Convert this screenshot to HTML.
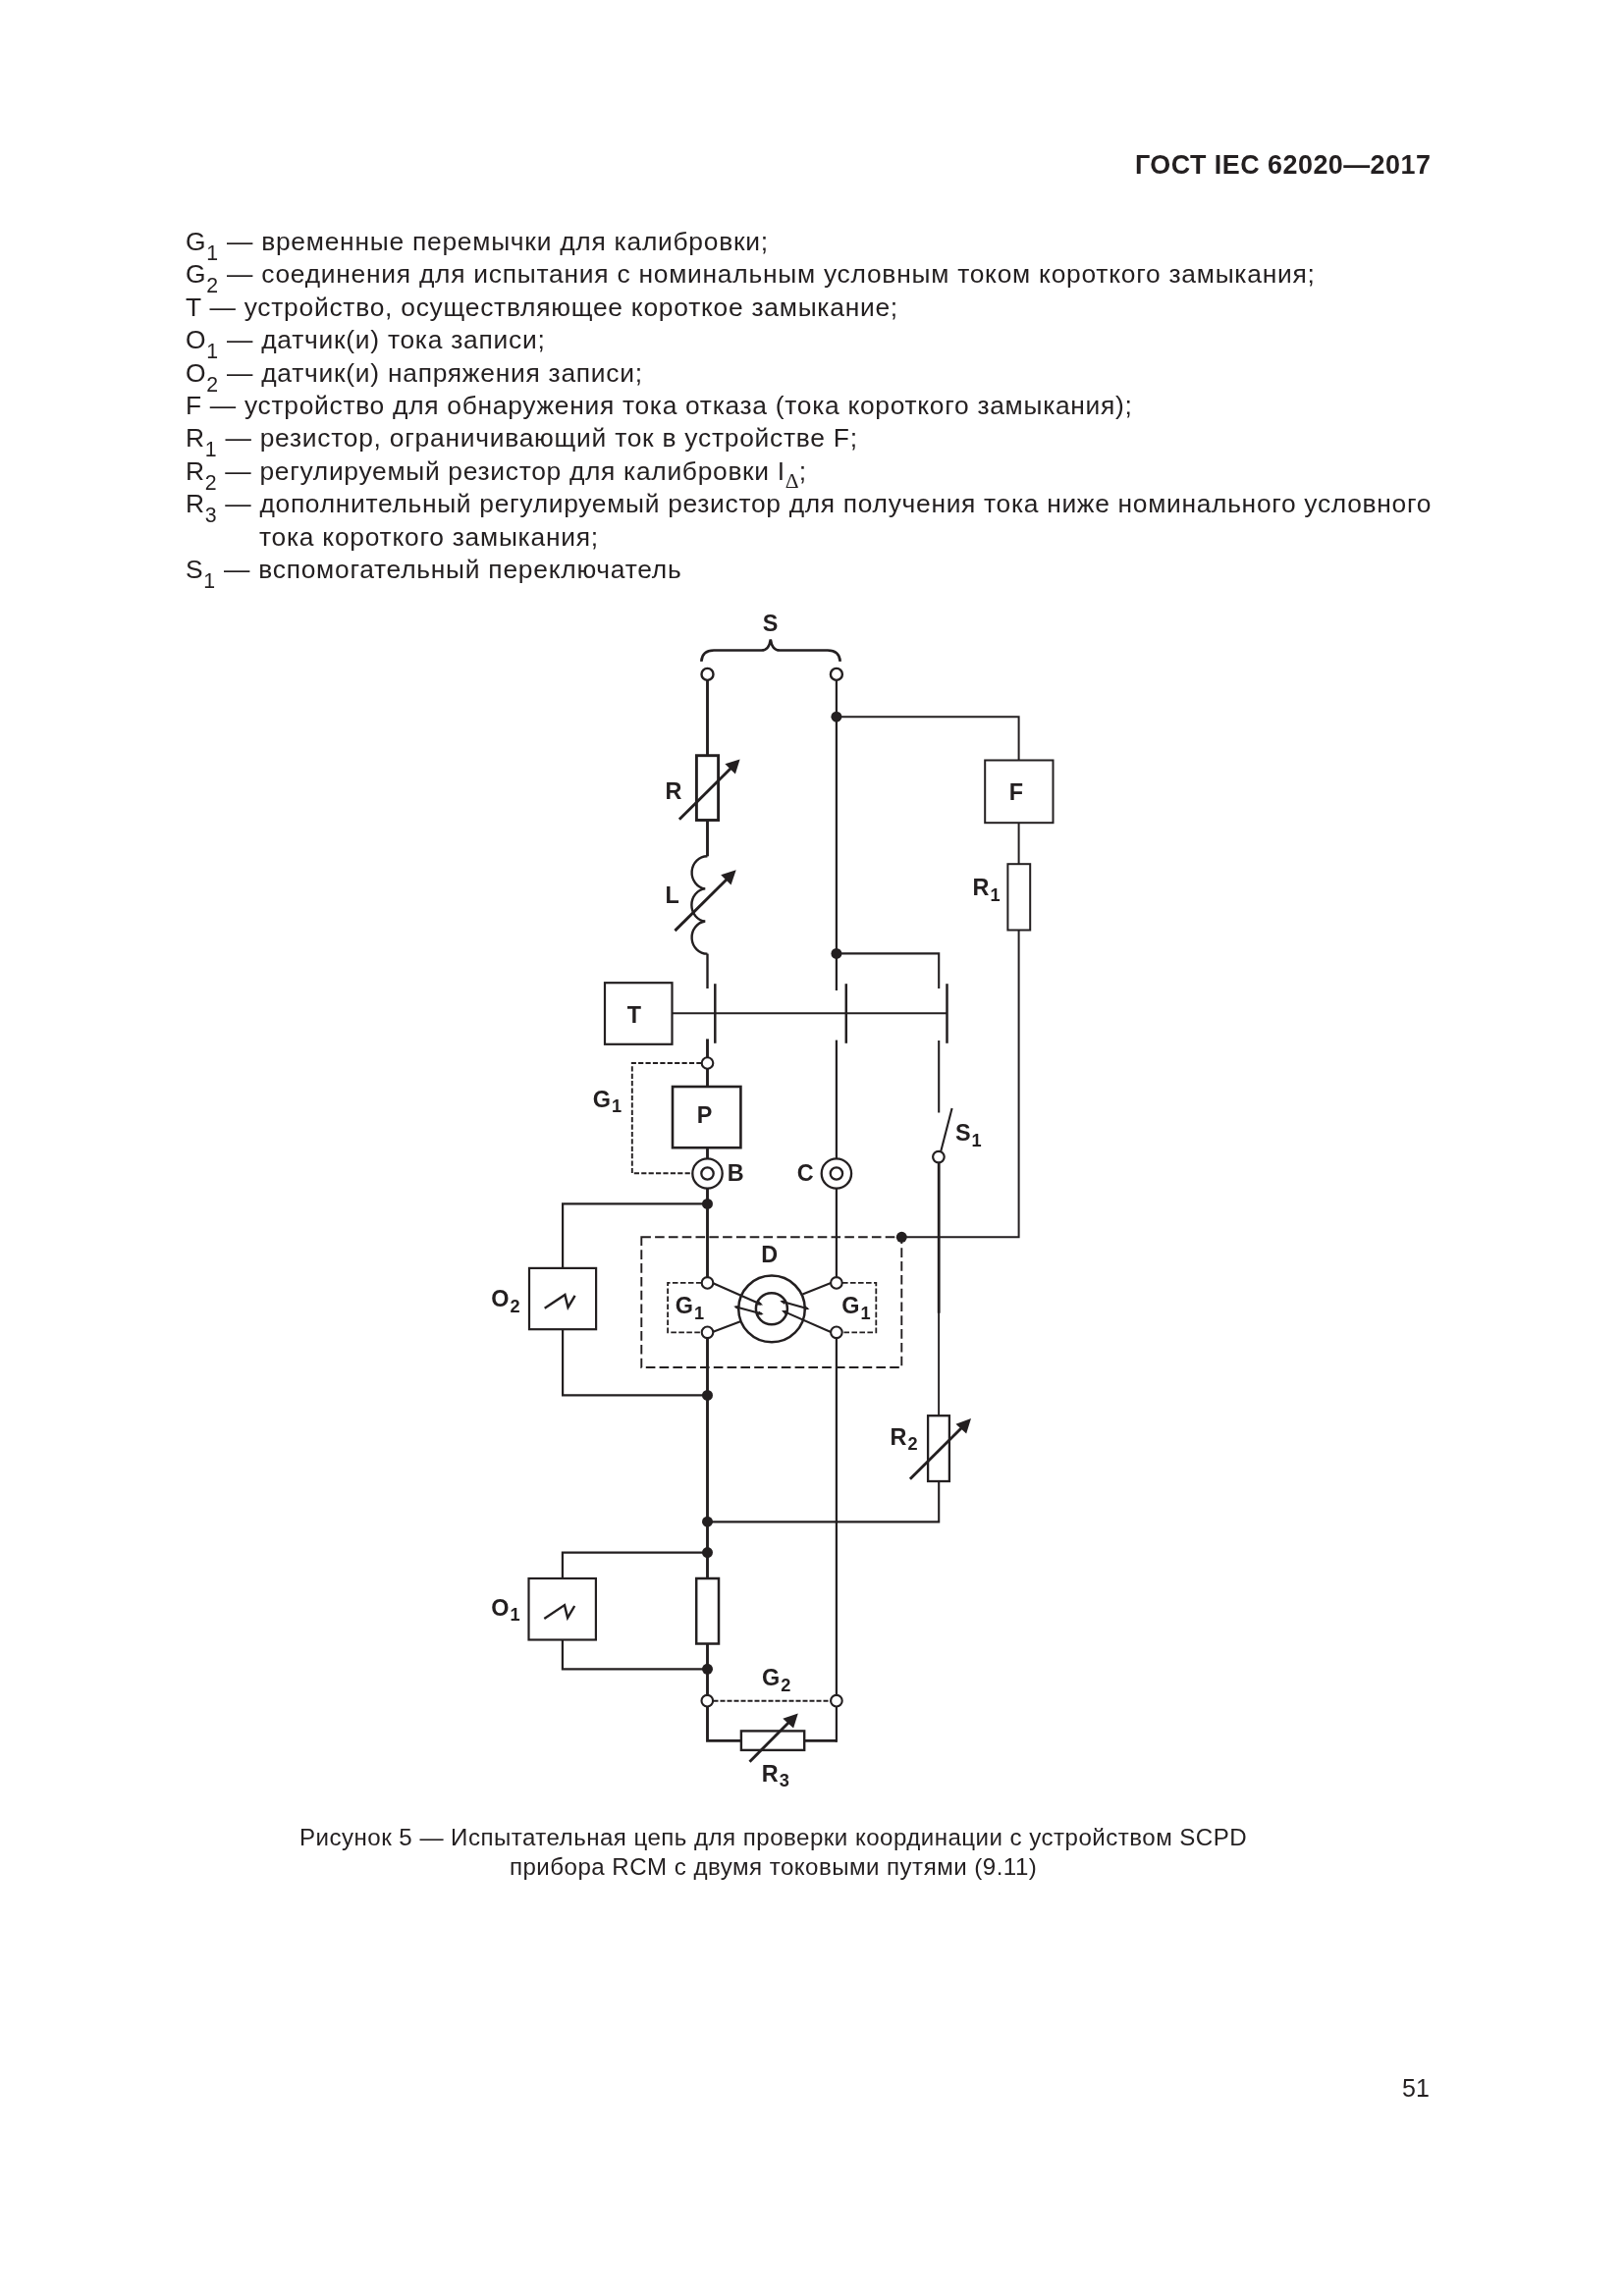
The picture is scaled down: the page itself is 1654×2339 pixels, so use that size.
<!DOCTYPE html>
<html lang="ru">
<head>
<meta charset="utf-8">
<title>ГОСТ IEC 62020—2017</title>
<style>
html,body{margin:0;padding:0;background:#fff;}
body{width:1654px;height:2339px;position:relative;overflow:hidden;font-family:"Liberation Sans",sans-serif;color:#231f20;}
.t,.hdr,.cap,.pn,svg{will-change:transform;}
.t{position:absolute;white-space:nowrap;line-height:1;font-size:26.4px;letter-spacing:0.745px;left:189.3px;}
.t sub{font-size:21.3px;vertical-align:baseline;position:relative;top:9.8px;line-height:0;}
.hdr{position:absolute;white-space:nowrap;line-height:1;font-weight:bold;font-size:26.9px;letter-spacing:0.48px;right:196.9px;top:155.2px;}
.cap{position:absolute;white-space:nowrap;line-height:1;font-size:24.1px;letter-spacing:0.47px;left:0;width:1575.2px;text-align:center;}
.pn{position:absolute;white-space:nowrap;line-height:1;font-size:25px;letter-spacing:0px;right:198.4px;top:2114.6px;}
svg{position:absolute;left:0;top:0;}
svg text{font-family:"Liberation Sans",sans-serif;font-weight:bold;font-size:23.4px;fill:#231f20;}
svg .s{font-size:18.2px;}
</style>
</head>
<body>
<div class="hdr">ГОСТ IEC 62020—2017</div>

<div class="t" style="top:233.0px">G<sub>1</sub> — временные перемычки для калибровки;</div>
<div class="t" style="top:266.4px">G<sub>2</sub> — соединения для испытания с номинальным условным током короткого замыкания;</div>
<div class="t" style="top:299.8px">T — устройство, осуществляющее короткое замыкание;</div>
<div class="t" style="top:333.2px">O<sub>1</sub> — датчик(и) тока записи;</div>
<div class="t" style="top:366.6px">O<sub>2</sub> — датчик(и) напряжения записи;</div>
<div class="t" style="top:400.0px;letter-spacing:0.705px">F — устройство для обнаружения тока отказа (тока короткого замыкания);</div>
<div class="t" style="top:433.4px">R<sub>1</sub> — резистор, ограничивающий ток в устройстве F;</div>
<div class="t" style="top:466.8px;letter-spacing:0.695px">R<sub>2</sub> — регулируемый резистор для калибровки I<sub style="font-family:'Liberation Serif',serif;font-size:21.5px;top:7.6px;margin-left:0px;letter-spacing:0">Δ</sub>;</div>
<div class="t" style="top:500.2px;letter-spacing:0.69px">R<sub>3</sub> — дополнительный регулируемый резистор для получения тока ниже номинального условного</div>
<div class="t" style="top:533.6px;left:264px">тока короткого замыкания;</div>
<div class="t" style="top:567.1px">S<sub>1</sub> — вспомогательный переключатель</div>

<svg width="1654" height="2339" viewBox="0 0 1654 2339" fill="none" stroke="#231f20" stroke-linecap="butt" stroke-linejoin="miter">
<!-- brace -->
<path d="M714.3,673.8 C714.8,666.5 719,662.5 727,662.5 L775.5,662.5 C781,662.5 783.8,658.8 784.8,651.3 C785.8,658.8 788.6,662.5 794.1,662.5 L843,662.5 C851,662.5 855.2,666.5 855.7,673.8" stroke-width="2.6"/>
<!-- left main wire (heavy) -->
<g stroke-width="2.9">
<path d="M720.5,693 V770"/>
<path d="M720.5,835.5 V872.3"/>
<path d="M720.5,1058.4 V1077"/>
<path d="M720.5,1089 V1107"/>
<path d="M720.5,1169 V1180.3"/>
<path d="M720.5,1210.7 V1301"/>
<path d="M720.5,1363 V1608"/>
<path d="M720.5,1674.5 V1727"/>
<path d="M720.5,1738.4 V1773.4 H755"/>
<path d="M819.2,1773.4 H851.9"/>
<rect x="709.4" y="769.7" width="22.2" height="65.8"/>
</g>
<path d="M720.5,971.6 V1007" stroke-width="2.4"/>
<!-- inductor -->
<path d="M720.5,872.3 A15.6,16.62 0 0 0 718.2,905.4 A15.2,16.62 0 0 0 718.2,938.5 A15.6,16.62 0 0 0 720.5,971.6" stroke-width="2.4"/>
<!-- middle wire -->
<g stroke-width="2.2">
<path d="M851.9,693 V1009"/>
<path d="M851.9,1059.6 V1180.3"/>
<path d="M851.9,1210.7 V1301"/>
<path d="M851.9,1363 V1727"/>
<path d="M851.9,1738.4 V1774.8"/>
</g>
<!-- F branch -->
<g stroke-width="2">
<path d="M851.9,730.2 H1037.6 V774.5"/>
<rect x="1003.2" y="774.5" width="69.3" height="63.7"/>
<path d="M1037.6,838.2 V880.2"/>
<rect x="1026.4" y="880.2" width="22.8" height="67.3"/>
<path d="M1037.6,947.5 V1260.3 H918.3"/>
</g>
<!-- S1 branch -->
<g stroke-width="2.1">
<path d="M851.9,971.4 H956.2 V1007"/>
<path d="M956.2,1060 V1133.5"/>
<path d="M969.6,1129 L958.2,1173"/>
<circle cx="955.9" cy="1178.6" r="5.8" stroke-width="2.2"/>
<path d="M956.2,1184.5 V1337.7" stroke-width="2.8"/>
<path d="M956.1,1337 V1442.2" stroke-width="1.9"/>
<rect x="945.1" y="1442.2" width="21.8" height="66.8" stroke-width="2.3"/>
<path d="M956.2,1509 V1550.4 H720.5"/>
</g>
<!-- contact bars -->
<g stroke-width="2.5">
<path d="M728.3,1002.2 V1062.8"/>
<path d="M861.8,1002.2 V1062.8"/>
<path d="M964.5,1002.2 V1062.8"/>
</g>
<!-- T -->
<rect x="616" y="1001.2" width="68.5" height="62.6" stroke-width="2.2"/>
<path d="M684.5,1032.3 H964.5" stroke-width="1.9"/>
<!-- P -->
<rect x="685" y="1107" width="69.4" height="62.2" stroke-width="2.6"/>
<!-- G1 dashed -->
<path d="M714.5,1083 H643.8 V1195.3 H705" stroke-width="1.9" stroke-dasharray="5.2 2.2"/>
<!-- B, C -->
<g stroke-width="2.3">
<circle cx="720.5" cy="1195.5" r="15.2"/><circle cx="720.5" cy="1195.5" r="6.2"/>
<circle cx="851.9" cy="1195.5" r="15.2"/><circle cx="851.9" cy="1195.5" r="6.2"/>
</g>
<!-- O2 -->
<g stroke-width="2.2">
<path d="M720.5,1226.4 H573.1 V1292"/>
<rect x="539" y="1291.9" width="68.1" height="62.3"/>
<path d="M573.1,1354.2 V1421.4 H720.5"/>
<path d="M554.7,1332.8 L575.4,1319 L578.5,1331.9 L585.6,1319.9" stroke-width="2.4" stroke-linejoin="miter"/>
</g>
<!-- O1 -->
<g stroke-width="2.2">
<path d="M720.5,1581.6 H572.9 V1608"/>
<rect x="538.5" y="1608" width="68.4" height="62.5"/>
<path d="M572.9,1670.5 V1700.3 H720.5"/>
<path d="M554.3,1648.9 L575,1635.1 L578.1,1648 L585.2,1636" stroke-width="2.4"/>
</g>
<rect x="709.2" y="1608" width="22.8" height="66.5" stroke-width="2.5"/>
<!-- D dashed -->
<path d="M653.3,1260.3 H918.3 V1393 H653.3 Z" stroke-width="1.9" stroke-dasharray="9.6 4.2"/>
<path d="M714.5,1306.9 H680.1 V1357.3 H714.5" stroke-width="1.8" stroke-dasharray="5.6 2.4"/>
<path d="M858,1306.9 H892.3 V1357.3 H858" stroke-width="1.8" stroke-dasharray="5.6 2.4"/>
<!-- toroid -->
<circle cx="786" cy="1333.4" r="33.8" stroke-width="2.5"/>
<circle cx="785.9" cy="1333.3" r="16" stroke-width="2.5"/>
<g stroke-width="2.1">
<path d="M726.3,1307.2 L775,1328.7"/>
<path d="M749,1331.3 L776,1338.6"/>
<path d="M796,1325.7 L822.8,1333.3"/>
<path d="M846.1,1357 L798,1335.9"/>
<path d="M846.2,1307 L817.4,1318.4"/>
<path d="M726.3,1356.8 L754,1346.3"/>
</g>
<g fill="#231f20" stroke="none">
<path d="M777.0,1329.6 L770.9,1329.4 L772.8,1325.2 Z"/>
<path d="M777.7,1339.1 L771.7,1339.8 L772.9,1335.4 Z"/>
<path d="M747.2,1330.8 L753.2,1330.1 L752.0,1334.5 Z"/>
<path d="M824.5,1333.8 L818.5,1334.5 L819.7,1330.1 Z"/>
<path d="M794.3,1325.2 L800.3,1324.5 L799.1,1328.9 Z"/>
<path d="M796.0,1335.0 L802.1,1335.1 L800.2,1339.4 Z"/>
</g>
<!-- terminals D -->
<g stroke-width="2.1">
<circle cx="720.5" cy="1306.9" r="5.8"/><circle cx="851.9" cy="1306.9" r="5.8"/>
<circle cx="720.5" cy="1357.3" r="5.8"/><circle cx="851.9" cy="1357.3" r="5.8"/>
<circle cx="720.5" cy="1083" r="5.8"/>
<circle cx="720.5" cy="686.9" r="6" stroke-width="2.4"/><circle cx="851.9" cy="686.9" r="6" stroke-width="2.4"/>
<circle cx="720.3" cy="1732.7" r="5.8"/><circle cx="851.9" cy="1732.7" r="5.8"/>
</g>
<!-- G2 dashed -->
<path d="M726.5,1732.7 H846" stroke-width="1.9" stroke-dasharray="5 2"/>
<!-- R3 -->
<rect x="754.9" y="1763.4" width="64.3" height="19.5" stroke-width="2.4"/>
<!-- arrows -->
<g stroke-width="2.9">
<path d="M691.9,834.7 L745,782"/>
<path d="M687.4,948.1 L741,895"/>
<path d="M926.9,1506.8 L980,1454"/>
<path d="M763.5,1794.7 L805,1753"/>
</g>
<g fill="#231f20" stroke="none">
<path d="M753.6,773.5 L738.4,778.2 L748.9,788.4 Z"/>
<path d="M749.7,886.2 L734.2,891.3 L744.5,901.6 Z"/>
<path d="M989,1445.1 L973.5,1450.7 L984.2,1460.6 Z"/>
<path d="M812.8,1745.4 L797.3,1750.7 L808.1,1760.4 Z"/>
<!-- dots -->
<circle cx="851.9" cy="730.2" r="5.5"/>
<circle cx="851.9" cy="971.4" r="5.5"/>
<circle cx="720.5" cy="1226.4" r="5.5"/>
<circle cx="918.3" cy="1260.3" r="5.5"/>
<circle cx="720.5" cy="1421.4" r="5.5"/>
<circle cx="720.5" cy="1550.2" r="5.5"/>
<circle cx="720.5" cy="1581.6" r="5.5"/>
<circle cx="720.5" cy="1700.3" r="5.5"/>
</g>
<!-- labels -->
<g stroke="none">
<text x="784.6" y="642.9" text-anchor="middle">S</text>
<text x="677.6" y="814.3">R</text>
<text x="677.6" y="919.5">L</text>
<text x="1034.8" y="815" text-anchor="middle">F</text>
<text x="990.6" y="912">R<tspan class="s" dx="1" dy="5.6">1</tspan></text>
<text x="646" y="1041.7" text-anchor="middle">T</text>
<text x="717.5" y="1143.8" text-anchor="middle">P</text>
<text x="603.8" y="1127.8">G<tspan class="s" dx="1" dy="5.6">1</tspan></text>
<text x="740.8" y="1203.3">B</text>
<text x="811.8" y="1203.3">C</text>
<text x="973" y="1162.3">S<tspan class="s" dx="1" dy="5.6">1</tspan></text>
<text x="783.6" y="1286.3" text-anchor="middle">D</text>
<text x="687.8" y="1338.2">G<tspan class="s" dx="1" dy="5.6">1</tspan></text>
<text x="857.3" y="1338.2">G<tspan class="s" dx="1" dy="5.6">1</tspan></text>
<text x="500.2" y="1331">O<tspan class="s" dx="1" dy="5.6">2</tspan></text>
<text x="500.2" y="1645.8">O<tspan class="s" dx="1" dy="5.6">1</tspan></text>
<text x="906.6" y="1471.7">R<tspan class="s" dx="1" dy="5.6">2</tspan></text>
<text x="776" y="1717.2">G<tspan class="s" dx="1" dy="5.4">2</tspan></text>
<text x="775.8" y="1814.7">R<tspan class="s" dx="1" dy="5.4">3</tspan></text>
</g>
</svg>


<div class="cap" style="top:1860px">Рисунок 5 — Испытательная цепь для проверки координации с устройством SCPD</div>
<div class="cap" style="top:1890.1px">прибора RCM с двумя токовыми путями (9.11)</div>
<div class="pn">51</div>
</body>
</html>
